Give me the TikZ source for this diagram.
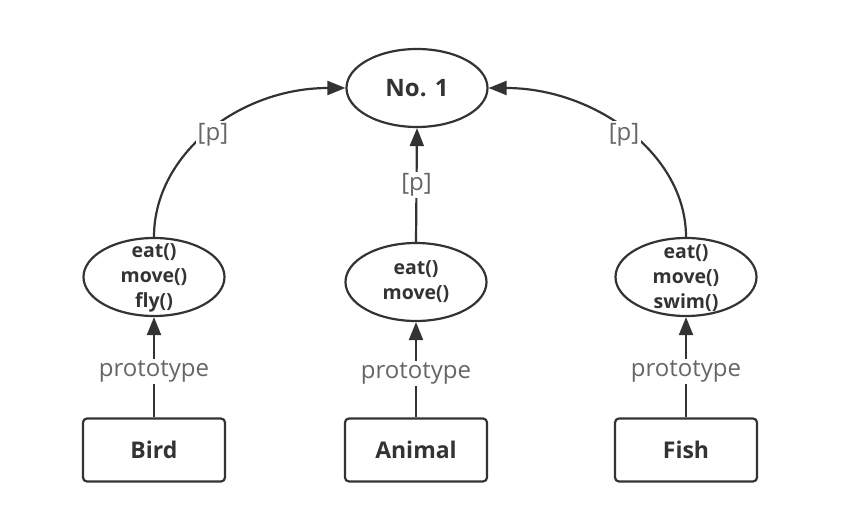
\documentclass[tikz,border=0pt]{standalone}
\usepackage{fontspec}
\setmainfont{Open Sans}
\usetikzlibrary{shapes.geometric, arrows.meta}

\definecolor{linegray}{HTML}{333333}
\definecolor{labelgray}{HTML}{666666}

\tikzset{
    protoell/.style={draw=linegray, line width=2.2pt, ellipse, minimum width=141pt, minimum height=78pt, inner sep=0pt},
    classbox/.style={draw=linegray, line width=2.2pt, rectangle, rounded corners=4pt, minimum width=142pt, minimum height=63pt, text=linegray, font=\bfseries\fontsize{23}{26}\selectfont},
    methods/.style={text=linegray, align=center, font=\bfseries\fontsize{19.5}{25}\selectfont},
    link/.style={draw=linegray, line width=2.2pt, -{Triangle[length=18pt, width=14pt]}},
    plabel/.style={fill=white, text=labelgray, inner sep=1.5pt, font=\fontsize{24}{26}\selectfont}
}

\begin{document}
\begin{tikzpicture}[x=1pt, y=-1pt]
        \useasboundingbox (0,0) rectangle (848,526);

        % top object
        \node[protoell, text=linegray, font=\bfseries\fontsize{24}{26}\selectfont] (no1) at (417,88) {No. 1};

        % prototype objects
        \node[protoell, label={[methods, yshift=-1pt]center:eat()\\move()\\fly()}] (birdproto) at (154,277) {};
        \node[protoell, label={[methods]center:eat()\\move()}] (animalproto) at (416,282) {};
        \node[protoell, label={[methods, yshift=-1pt]center:eat()\\move()\\swim()}] (fishproto) at (686,277) {};

        % constructors
        \node[classbox] (bird) at (154,450) {Bird};
        \node[classbox] (animal) at (416,450) {Animal};
        \node[classbox] (fish) at (686,450) {Fish};

        \draw[link] (bird.north) -- node[plabel, yshift=-4pt]{prototype} (birdproto.south);
        \draw[link] (animal.north) -- node[plabel, yshift=-4pt]{prototype} (animalproto.south);
        \draw[link] (fish.north) -- node[plabel, yshift=-4pt]{prototype} (fishproto.south);

        % quarter-ellipse arcs up to No. 1
        \draw[link] (birdproto.north) .. controls +(0,-83) and +(-106,0) .. node[plabel, xshift=3pt, yshift=-3pt]{[p]} (no1.west);
        \draw[link] (animalproto.north) -- node[plabel]{[p]} (no1.south);
        \draw[link] (fishproto.north) .. controls +(0,-83) and +(106,0) .. node[plabel, xshift=-3pt, yshift=-3pt]{[p]} (no1.east);
    \end{tikzpicture}
\end{document}
